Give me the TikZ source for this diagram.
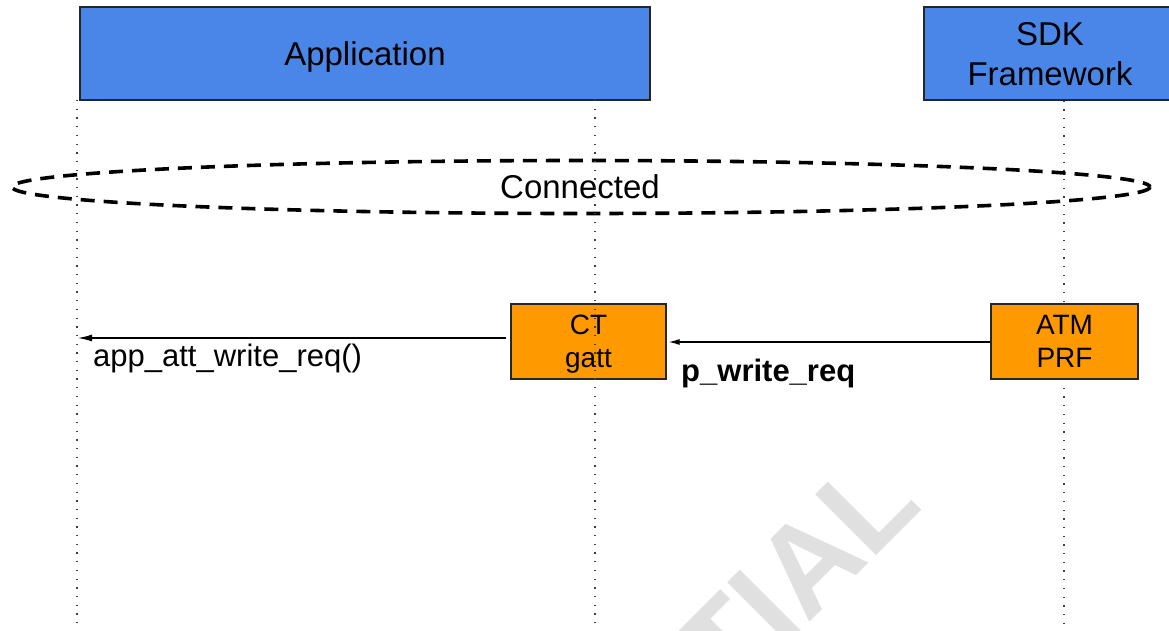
\documentclass[tikz,border=0pt]{standalone}
\usepackage{fontspec}
\setmainfont{Liberation Sans}
\usetikzlibrary{arrows.meta}

\definecolor{laneblue}{RGB}{74,134,232}
\definecolor{procorange}{RGB}{255,153,0}
\definecolor{markgray}{RGB}{224,224,224}

\tikzset{
  lanehead/.style={draw=black!85, line width=1.3pt, fill=laneblue, inner sep=0pt,
    align=center, text depth=0pt, font=\fontsize{33}{40}\selectfont},
  procbox/.style={draw=black!85, line width=1.3pt, fill=procorange, inner sep=0pt,
    minimum height=75pt, align=center, text depth=0pt, font=\fontsize{28}{33}\selectfont},
  lifeline/.style={draw=black!75, line width=1.3pt, dash pattern=on 1.3pt off 7.4pt},
  statering/.style={draw=black, line width=3.6pt, dash pattern=on 14pt off 9pt},
  msg/.style={draw=black, line width=1.3pt},
  msglabel/.style={inner sep=0pt, font=\fontsize{31}{36}\selectfont},
}

\begin{document}
\begin{tikzpicture}[x=1pt, y=-1pt]
  \clip (0,0) rectangle (1169,630);
  \fill[white] (0,0) rectangle (1169,630);

  % watermark
  \node[text=markgray, inner sep=0pt, rotate=45, anchor=base east,
        font=\fontsize{125}{150}\selectfont\bfseries] (wmark) at (925,507) {CONFIDENTIAL};

  % lane headers
  \node[lanehead, minimum width=570pt, minimum height=93pt] (app) at (365,53.5) {Application};
  \node[lanehead, minimum width=252pt, minimum height=93pt] (sdk) at (1050,53.5) {SDK\\Framework};

  % lifeline ends
  \coordinate (appEnd) at (77,630);
  \coordinate (ctTop) at (595,100);
  \coordinate (ctEnd) at (595,630);
  \coordinate (sdkEnd) at (1064,630);

  % lifelines of application and SDK
  \draw[lifeline] (77,100) -- (appEnd);
  \draw[lifeline] (sdk.south -| sdkEnd) -- (sdkEnd);

  % connected state
  \draw[statering] (581,187) ellipse [x radius=569, y radius=26.5];
  \node[font=\fontsize{33}{40}\selectfont, inner sep=0pt] (conn) at (580,187) {Connected};

  % processing blocks
  \node[procbox, minimum width=155pt] (ct) at (588.5,341.5) {CT\\gatt};
  \node[procbox, minimum width=147pt] (atm) at (1064.5,341.5) {ATM\\PRF};

  % lifeline of the CT block, drawn on top of it
  \draw[lifeline] (ctTop) -- (ctEnd);

  % messages
  \coordinate (appTip) at (78,338);
  \draw[msg, -{Latex[length=14pt,width=7pt]}] ([xshift=-4pt]ct.west |- appTip) -- (appTip);
  \draw[msg, -{Latex[length=11pt,width=6pt]}] (atm.west |- 0,342) -- ([xshift=2pt]ct.east |- 0,342);

  \node[msglabel, anchor=west] (l1) at (93,358) {app\_att\_write\_req()};
  \node[msglabel, anchor=west] (l2) at (681,373) {\bfseries p\_write\_req};
\end{tikzpicture}
\end{document}
